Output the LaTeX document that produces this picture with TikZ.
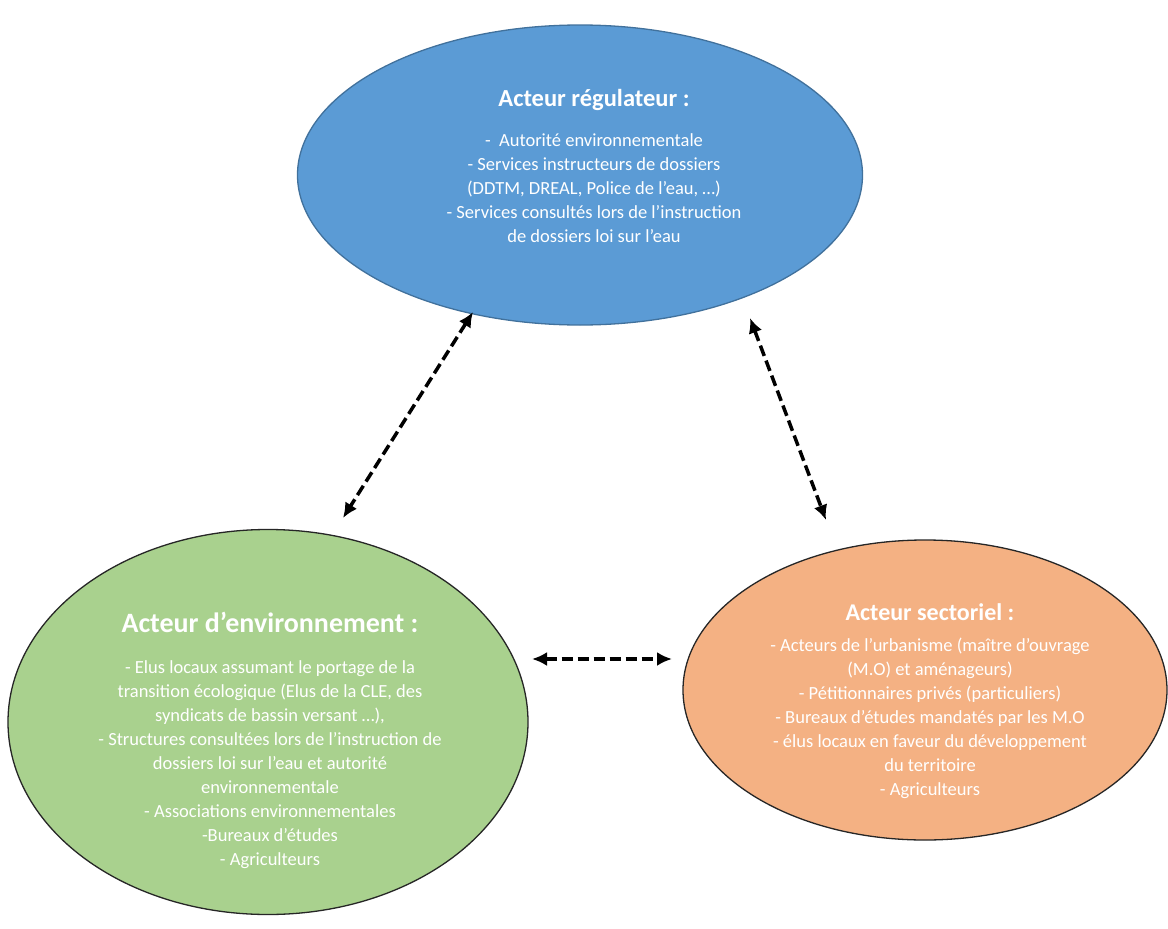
\documentclass[tikz,border=0pt]{standalone}
\usepackage{fontspec}
\setmainfont{Carlito}
\usetikzlibrary{
  shapes.geometric, % Shape "ellipse"
  arrows.meta,
  positioning,      % Function "of" (e.g. [below=of x])
}
\definecolor{regfill}{HTML}{5B9BD5}
\definecolor{regline}{HTML}{41719C}
\definecolor{envfill}{HTML}{A9D18E}
\definecolor{secfill}{HTML}{F4B183}
\def\mylistsize{\fontsize{18.5}{24}\selectfont}
\tikzset{
  x=1pt,
  y=-1pt,
  my actor/.style={
    draw=black!85,
    ellipse,
    line width=1.3pt,
    inner sep=0pt
  },
  my title/.style={
    text=white,
    inner sep=0pt,
    font=\bfseries\fontsize{24.5}{28}\selectfont
  },
  my list/.style={
    text=white,
    align=center,
    inner sep=0pt,
    font=\mylistsize
  },
  my link/.style={
    {Latex[length=15pt,width=14pt]}-{Latex[length=15pt,width=14pt]},
    line width=3.5pt,
    dash pattern=on 11pt off 5pt
  }
}
\begin{document}
\begin{tikzpicture}
\useasboundingbox[fill=white] (0,0) rectangle (1168,929);
% ellipses
\node[my actor,fill=regfill,draw=regline,minimum width=565pt,minimum height=300pt] (reg) at (580,175) {};
\node[my actor,fill=envfill,minimum width=520pt,minimum height=385pt] (env) at (268,722) {};
\node[my actor,fill=secfill,minimum width=484pt,minimum height=300pt] (sec) at (925,690) {};
% texts
\node[my title] (regtitle) at (594,100) {Acteur régulateur :};
\node[my list,below=23pt of regtitle] (reglist) {%
  - \ Autorité environnementale\\
  - Services instructeurs de dossiers\\
  (DDTM, DREAL, Police de l’eau, …)\\
  - Services consultés lors de l’instruction\\
  de dossiers loi sur l’eau};
\node[my title,font=\bfseries\fontsize{28}{32}\selectfont] (envtitle) at (270,622) {Acteur d’environnement :};
\node[my list,below=28pt of envtitle] (envlist) {%
  - Elus locaux assumant le portage de la\\
  transition écologique (Elus de la CLE, des\\
  syndicats de bassin versant …),\\
  - Structures consultées lors de l’instruction de\\
  dossiers loi sur l’eau et autorité\\
  environnementale\\
  - Associations environnementales\\
  -Bureaux d’études\\
  - Agriculteurs};
\node[my title,font=\bfseries\fontsize{24}{28}\selectfont] (sectitle) at (930,612) {Acteur sectoriel :};
\node[my list,below=17pt of sectitle] (seclist) {%
  - Acteurs de l’urbanisme (maître d’ouvrage\\
  (M.O) et aménageurs)\\
  - Pétitionnaires privés (particuliers)\\
  - Bureaux d’études mandatés par les M.O\\
  - élus locaux en faveur du développement\\
  du territoire\\
  - Agriculteurs};
% links
\coordinate (regA) at (473,312);
\coordinate (envA) at (343,518);
\coordinate (regB) at (750,318);
\coordinate (secB) at (826,520);
\coordinate (envC) at (532,659);
\coordinate (secC) at (672,659);
\draw[my link] (regA) -- (envA);
\draw[my link] (regB) -- (secB);
\draw[my link] (envC) -- (secC);
\end{tikzpicture}
\end{document}
